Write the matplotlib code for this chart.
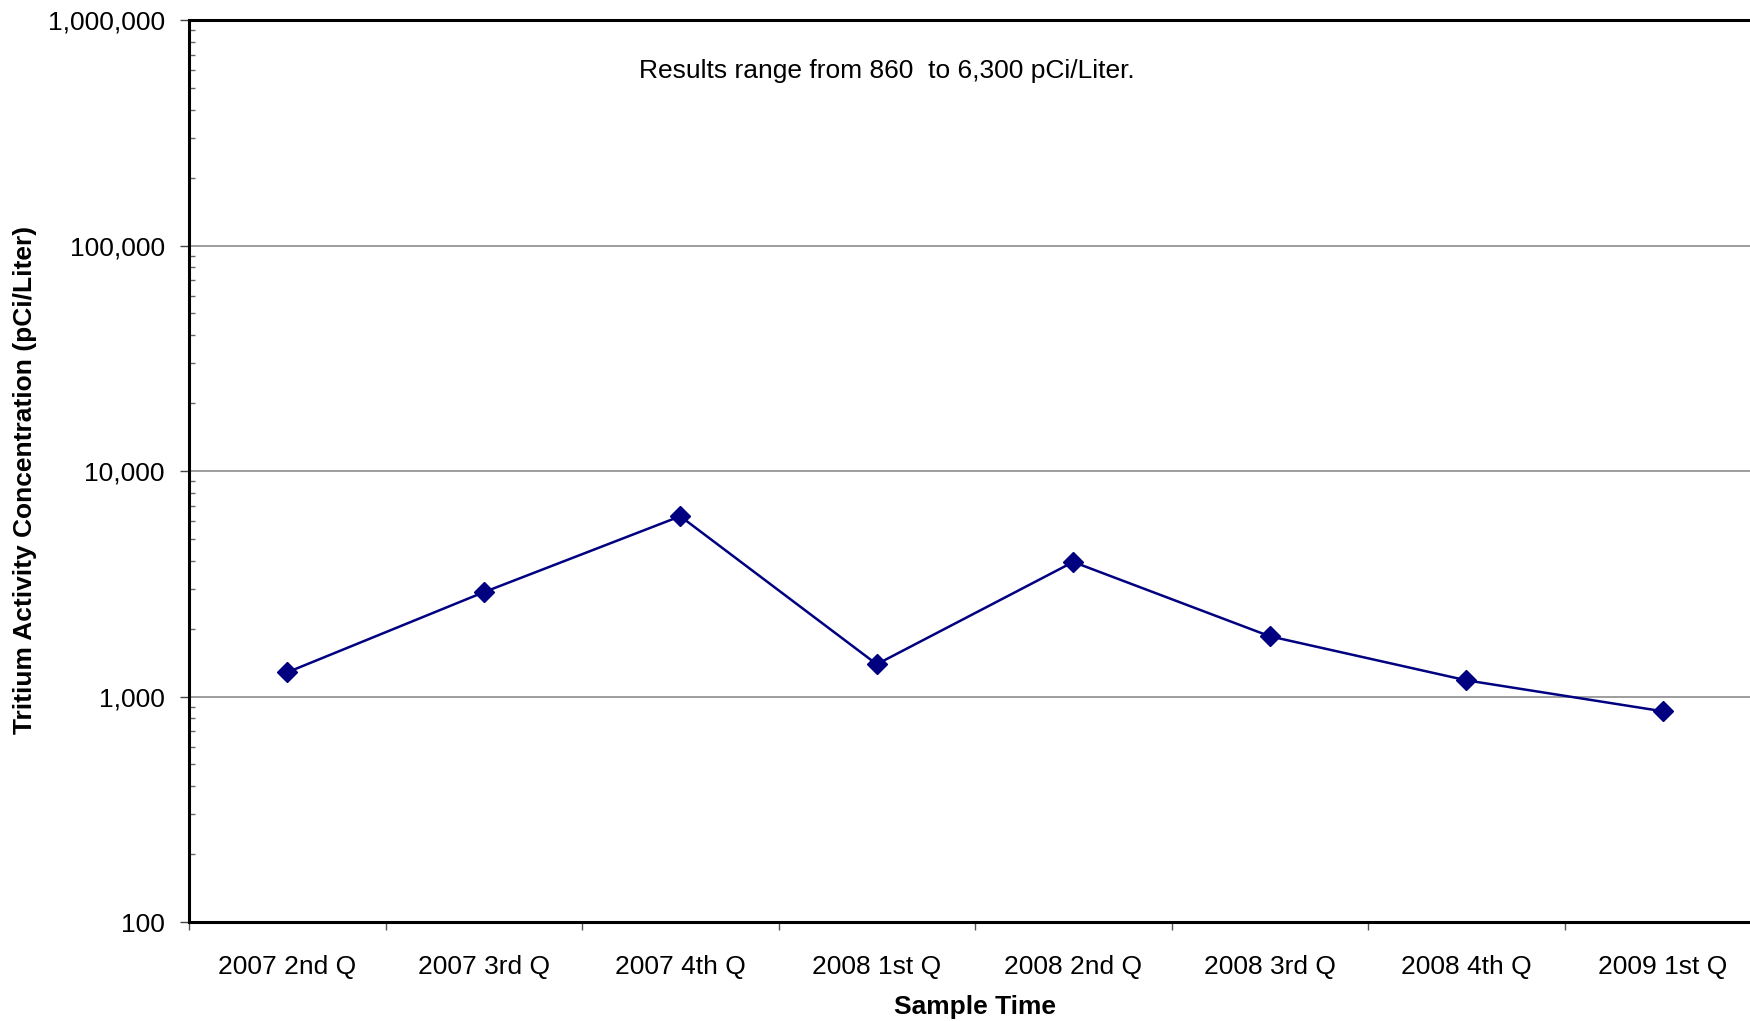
import matplotlib
matplotlib.use("Agg")
import matplotlib.pyplot as plt
from matplotlib.ticker import FixedLocator, FuncFormatter, LogLocator, NullFormatter
import numpy as np

plt.rcParams['font.family'] = ['Liberation Sans', 'DejaVu Sans']

# datos
trimestres = ["2007 2nd Q", "2007 3rd Q", "2007 4th Q", "2008 1st Q",
              "2008 2nd Q", "2008 3rd Q", "2008 4th Q", "2009 1st Q"]
tritio = [1280, 2900, 6300, 1390, 3950, 1850, 1180, 860]
nota = "Results range from 860  to 6,300 pCi/Liter."

fig = plt.figure(figsize=(17.5, 10.21), dpi=100)
ax = fig.add_axes([189/1750, 1 - 922/1021, (1761 - 189)/1750, (922 - 20)/1021])

posiciones = np.arange(len(trimestres)) + 0.5
ax.plot(posiciones, tritio, color='#000080', lw=1.8, marker='D', markersize=10,
        markerfacecolor='#000080', markeredgecolor='#000080', zorder=3)

ax.set_yscale('log')
ax.set_ylim(100, 1000000)
ax.set_xlim(0, len(trimestres))

# ejes y rejilla
ax.yaxis.set_major_locator(FixedLocator([100, 1000, 10000, 100000, 1000000]))
ax.yaxis.set_major_formatter(FuncFormatter(lambda v, p: f"{int(round(v)):,}"))
ax.yaxis.set_minor_locator(LogLocator(base=10, subs=np.arange(2, 10)))
ax.yaxis.set_minor_formatter(NullFormatter())
ax.grid(axis='y', which='major', color='#8c8c8c', lw=1.2)
ax.tick_params(axis='y', which='major', direction='out', length=6.5, width=1,
               pad=11, labelsize=19, color='#444444')
ax.tick_params(axis='y', which='minor', direction='in', length=4, width=1,
               color='#666666')

ax.set_xticks(np.arange(len(trimestres) + 1))
ax.set_xticklabels([])
ax.set_xticks(posiciones, minor=True)
ax.set_xticklabels(trimestres, minor=True)
ax.tick_params(axis='x', which='major', direction='out', length=6, width=1,
               color='#555555')
ax.tick_params(axis='x', which='minor', length=0, pad=24, labelsize=19)

for lado in ['left', 'bottom', 'top']:
    ax.spines[lado].set_linewidth(2.2)
    ax.spines[lado].set_color('black')
ax.spines['right'].set_visible(False)

ax.set_xlabel("Sample Time", fontsize=19, fontweight='bold', labelpad=11)
ax.set_ylabel("Tritium Activity Concentration (pCi/Liter)", fontsize=19,
              fontweight='bold')
ax.yaxis.set_label_coords(-(189 - 37)/1572, 0.49)

fig.text(887/1750, 1 - 71/1021, nota, fontsize=19, ha='center', va='center')

fig.savefig("out.png", dpi=100)
